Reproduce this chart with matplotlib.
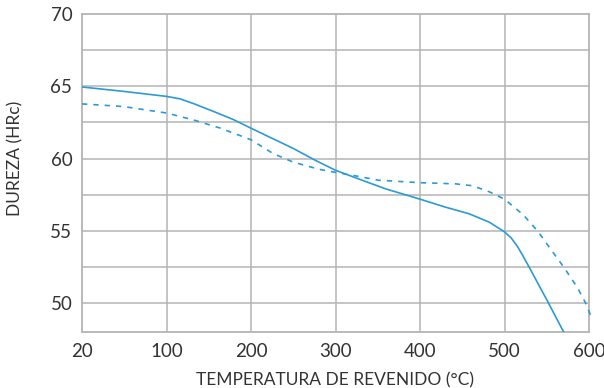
import matplotlib
matplotlib.use("Agg")
import matplotlib.pyplot as plt
import numpy as np

# Tempering curves: hardness (HRc) vs tempering temperature (°C)
temp_solid = [20, 59, 100, 116, 132, 156, 179, 200, 226, 250, 277, 300, 331, 359,
              400, 430, 458, 482, 490, 500, 508, 515, 522, 530, 550, 570]
hrc_solid = [64.95, 64.65, 64.3, 64.13, 63.8, 63.25, 62.7, 62.1, 61.37, 60.7, 59.85, 59.19, 58.51, 57.91,
             57.19, 56.64, 56.18, 55.6, 55.3, 54.93, 54.5, 53.95, 53.25, 52.4, 50.23, 48.0]

temp_dashed = [20, 59, 100, 132, 164, 200, 226, 250, 281, 304, 315, 351, 400, 442, 462, 482,
               500, 522, 540, 554, 570, 586, 596, 604]
hrc_dashed = [63.78, 63.6, 63.15, 62.67, 62.1, 61.3, 60.35, 59.75, 59.25, 59.0, 58.9, 58.5, 58.33, 58.25, 58.12, 57.7,
              57.19, 56.12, 54.93, 53.78, 52.5, 51.1, 50.0, 48.85]

x_ticks = [20, 100, 200, 300, 400, 500, 600]
y_ticks = [50, 55, 60, 65, 70]
y_grid = [50, 52.5, 55, 57.5, 60, 62.5, 65, 67.5]

color = "#2b9ad6"
grid_color = "#b4b4b4"
text_color = "#333333"


def fwd(x):
    x = np.asarray(x, dtype=float)
    return np.where(x < 100, (x - 20) * 100.0 / 80.0, x)


def inv(x):
    x = np.asarray(x, dtype=float)
    return np.where(x < 100, x * 80.0 / 100.0 + 20, x)


plt.rcParams["font.family"] = ["Lato", "DejaVu Sans"]

fig = plt.figure(figsize=(6.04, 3.88), dpi=100)
ax = fig.add_axes([82 / 604, 1 - 332 / 388, (589 - 82) / 604, (332 - 14) / 388])
ax.set_xscale("function", functions=(fwd, inv))
ax.set_xlim(20, 600)
ax.set_ylim(48, 70)

for yv in y_grid:
    ax.axhline(yv, color=grid_color, lw=1.1, zorder=1)
for xv in x_ticks[1:-1]:
    ax.axvline(xv, color=grid_color, lw=1.1, zorder=1)

for s in ax.spines.values():
    s.set_color(grid_color)
    s.set_linewidth(1.3)

ax.plot(temp_solid, hrc_solid, color=color, lw=1.2, zorder=3, solid_joinstyle="round")
ax.plot(temp_dashed, hrc_dashed, color=color, lw=1.2, ls=(0, (3.2, 3.6)), zorder=3, clip_on=False)

ax.set_xticks(x_ticks)
ax.set_xticklabels([str(v) for v in x_ticks])
ax.set_yticks(y_ticks)
ax.set_yticklabels([str(v) for v in y_ticks])
ax.tick_params(length=0, labelsize=13.5, colors=text_color)
ax.tick_params(axis="x", pad=8)
ax.tick_params(axis="y", pad=7)

ax.set_xlabel("TEMPERATURA DE REVENIDO (°C)", fontsize=12.5, color=text_color, labelpad=9)
ax.set_ylabel("DUREZA (HRc)", fontsize=12.5, color=text_color)
ax.yaxis.set_label_coords((15 - 82) / 507, (332 - 158) / 318)
ax.yaxis.label.set_verticalalignment("center")

fig.savefig("out.png", dpi=100)
